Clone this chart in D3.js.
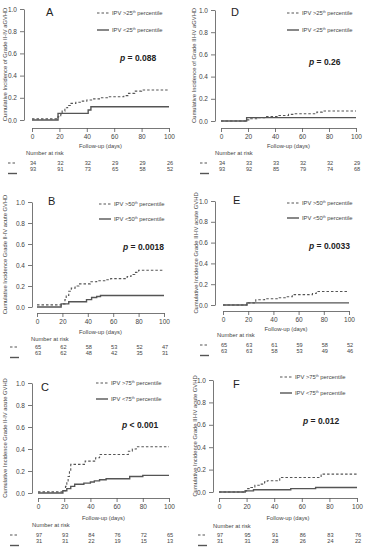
<!DOCTYPE html>
<meta charset="utf-8">
<style>
body { margin: 0; background: #fff; }
svg { font-family: "Liberation Sans", Arial, sans-serif; }
.axis path, .axis line { stroke: #555; stroke-width: 0.8px; }
.axis text { font-size: 6.5px; fill: #444; }
.curve { fill: none; stroke: #555; stroke-width: 1.4px; }
.curve.hi { stroke-dasharray: 2.5,2; stroke-width: 1.1px; }
.lbl { font-size: 5.8px; fill: #444; }
.risk { font-size: 5.6px; fill: #444; }
.pval { font-size: 8.5px; font-weight: bold; fill: #222; }
.letter { font-size: 11px; fill: #222; }
</style>
<body>
<script src="https://cdn.jsdelivr.net/npm/d3@7"></script>
<script>

// panel names, percentile cut and p values
var panelNames = ["A", "D", "B", "E", "C", "F"];
var cuts = ["25", "25", "50", "50", "75", "75"];
var pvals = ["= 0.088", "= 0.26", "= 0.0018", "= 0.0033", "< 0.001", "= 0.012"];
var yTitles = [
  "Cumulative Incidence of Grade II-IV aGVHD",
  "Cumulative Incidence of Grade III-IV aGVHD",
  "Cumulative Incidence Grade II-IV acute GVHD",
  "Cumulative Incidence Grade III-IV acute GVHD",
  "Cumulative Incidence Grade II-IV acute GVHD",
  "Cumulative Incidence Grade III-IV acute GVHD"
];
var riskTimes = [0, 20, 40, 60, 80, 100];
var yTicks = [0, 0.2, 0.4, 0.6, 0.8, 1.0];

// step curves, [day, cumulative incidence]
var hiA = [[0,0.01],[19,0.03],[21,0.05],[22,0.08],[24,0.11],[26,0.13],[28,0.15],[32,0.16],[36,0.17],[40,0.18],[45,0.19],[50,0.20],[55,0.21],[67,0.22],[70,0.24],[75,0.26],[80,0.27],[100,0.27]];
var loA = [[0,0],[19,0.06],[41,0.09],[43,0.12],[100,0.12]];
var hiD = [[0,0],[19,0.01],[22,0.02],[27,0.03],[33,0.04],[42,0.05],[50,0.06],[55,0.065],[71,0.08],[75,0.09],[100,0.09]];
var loD = [[0,0],[19,0.03],[100,0.03]];
var hiB = [[0,0.02],[20,0.03],[22,0.07],[23,0.11],[25,0.15],[27,0.18],[30,0.2],[33,0.22],[42,0.24],[47,0.25],[54,0.26],[58,0.27],[71,0.29],[74,0.31],[77,0.33],[80,0.35],[100,0.35]];
var loB = [[0,0],[19,0.03],[25,0.05],[39,0.07],[43,0.09],[47,0.1],[50,0.11],[100,0.11]];
var hiE = [[0,0],[19,0.01],[20,0.02],[26,0.05],[33,0.06],[44,0.07],[50,0.08],[55,0.1],[71,0.11],[74,0.13],[100,0.13]];
var loE = [[0,0],[19,0.02],[100,0.02]];
var hiC = [[0,0.01],[20,0.02],[21,0.06],[22,0.1],[23,0.15],[24,0.2],[25,0.26],[36,0.29],[44,0.32],[47,0.35],[69,0.38],[72,0.4],[75,0.42],[100,0.42]];
var loC = [[0,0],[19,0.02],[22,0.04],[25,0.06],[28,0.08],[35,0.09],[40,0.1],[43,0.11],[47,0.12],[52,0.13],[70,0.15],[80,0.16],[100,0.16]];
var hiF = [[0,0],[19,0.01],[20,0.03],[23,0.04],[26,0.06],[30,0.07],[33,0.09],[35,0.1],[44,0.13],[74,0.16],[100,0.16]];
var loF = [[0,0],[19,0.01],[25,0.02],[52,0.03],[70,0.04],[100,0.04]];
var hiCurves = [hiA, hiD, hiB, hiE, hiC, hiF];
var loCurves = [loA, loD, loB, loE, loC, loF];

// number at risk
var riskHi = [[34,32,32,29,29,26],[34,33,33,32,32,29],[65,62,58,53,52,47],[65,63,61,59,58,52],[97,93,84,76,72,65],[97,95,91,86,83,76]];
var riskLo = [[93,91,73,65,58,52],[93,92,85,79,74,68],[63,62,48,42,35,31],[63,63,58,53,49,46],[31,31,22,19,15,13],[31,31,28,26,24,22]];

// where each panel sits on the page
var layout = [
  {x0: 32, x1: 169, top: 9, bot: 120, ax: 24, xa: 128, lx: 5, mk: 8,
   leg: [97, 13, 30], p: [120, 61], let: [46, 12], under: [8, 18, 25, 35, 41.5]},
  {x0: 221, x1: 356, top: 10, bot: 121, ax: 215, xa: 128, lx: 194, mk: 200,
   leg: [287, 13, 30], p: [309, 65], let: [231, 12], under: [8, 18, 25, 35, 41.5]},
  {x0: 37, x1: 164, top: 202, bot: 307, ax: 32, xa: 313, lx: 5, mk: 10,
   leg: [99, 204, 219], p: [123, 250], let: [48, 201], under: [8, 19, 26, 34, 40.5]},
  {x0: 223, x1: 349, top: 201, bot: 305, ax: 215, xa: 311, lx: 196, mk: 200,
   leg: [287, 203, 218], p: [309, 249], let: [233, 200], under: [8, 18, 24, 34, 40.5]},
  {x0: 38, x1: 169, top: 383, bot: 493, ax: 32, xa: 498, lx: 5, mk: 10,
   leg: [96, 383, 399], p: [122, 428], let: [41, 387], under: [9, 20, 27, 37, 43.5]},
  {x0: 219, x1: 357, top: 380, bot: 492, ax: 213, xa: 498, lx: 195, mk: 198,
   leg: [280, 377, 393], p: [303, 424], let: [233, 384], under: [8, 20, 28, 37, 43.5]}
];

var svg = d3.select("body").append("svg")
    .attr("width", 365)
    .attr("height", 550);

panelNames.forEach(function(name, i) {
  var L = layout[i];
  var g = svg.append("g");

  var x = d3.scaleLinear().domain([0, 100]).range([L.x0, L.x1]);
  var y = d3.scaleLinear().domain([0, 1]).range([L.bot, L.top]);

  // axes, R style (detached)
  g.append("g").attr("class", "axis")
    .attr("transform", "translate(" + L.ax + ",0)")
    .call(d3.axisLeft(y).tickValues(yTicks).tickFormat(d3.format(".1f"))
      .tickSize(4).tickSizeOuter(0).tickPadding(3));
  g.append("g").attr("class", "axis")
    .attr("transform", "translate(0," + L.xa + ")")
    .call(d3.axisBottom(x).tickValues(riskTimes).tickSize(4).tickSizeOuter(0).tickPadding(2));

  g.append("text").attr("class", "lbl")
    .attr("transform", "translate(" + L.lx + "," + (L.top + L.bot) / 2 + ") rotate(-90)")
    .attr("text-anchor", "middle").attr("dy", "0.35em")
    .text(yTitles[i]);

  var line = d3.line()
    .x(d => x(d[0]))
    .y(d => y(d[1]))
    .curve(d3.curveStepAfter);

  g.append("path").attr("class", "curve lo").attr("d", line(loCurves[i]));
  g.append("path").attr("class", "curve hi").attr("d", line(hiCurves[i]));

  // letter, legend, p value
  g.append("text").attr("class", "letter")
    .attr("x", L.let[0]).attr("y", L.let[1]).attr("dy", "0.35em").text(name);

  [["hi", ">"], ["lo", "<"]].forEach(function(k, j) {
    var ly = L.leg[j + 1];
    g.append("line").attr("class", "curve " + k[0])
      .attr("x1", L.leg[0]).attr("x2", L.leg[0] + 12)
      .attr("y1", ly).attr("y2", ly);
    var t = g.append("text").attr("class", "lbl")
      .attr("x", L.leg[0] + 15).attr("y", ly).attr("dy", "0.35em");
    t.append("tspan").text("IPV " + k[1] + cuts[i]);
    t.append("tspan").attr("font-size", "3.5px").attr("dy", "-2").text("th");
    t.append("tspan").attr("dy", "2").text(" percentile");
  });

  var p = g.append("text").attr("class", "pval")
    .attr("x", L.p[0]).attr("y", L.p[1]);
  p.append("tspan").attr("font-style", "italic").text("p");
  p.append("tspan").text(" " + pvals[i]);

  // below the axis
  var u = L.under;
  g.append("text").attr("class", "lbl")
    .attr("x", (L.x0 + L.x1) / 2).attr("y", L.xa + u[1]).attr("dy", "0.35em")
    .attr("text-anchor", "middle").attr("font-size", "6.2px").text("Follow-up (days)");
  g.append("text").attr("class", "lbl")
    .attr("x", L.x0 - 6).attr("y", L.xa + u[2]).attr("dy", "0.35em")
    .text("Number at risk");

  [riskHi[i], riskLo[i]].forEach(function(row, j) {
    g.selectAll(null).data(row).enter().append("text")
      .attr("class", "risk")
      .attr("x", (d, k) => x(riskTimes[k]) + 1)
      .attr("y", L.xa + u[3 + j]).attr("dy", "0.35em")
      .attr("text-anchor", "middle")
      .text(d => d);
  });
  g.append("line").attr("class", "curve hi")
    .attr("x1", L.mk).attr("x2", L.mk + 7)
    .attr("y1", L.xa + u[3]).attr("y2", L.xa + u[3]);
  g.append("line").attr("class", "curve lo")
    .attr("x1", L.mk).attr("x2", L.mk + 9)
    .attr("y1", L.xa + u[4] + 4).attr("y2", L.xa + u[4] + 4);
});

</script>
</body>
